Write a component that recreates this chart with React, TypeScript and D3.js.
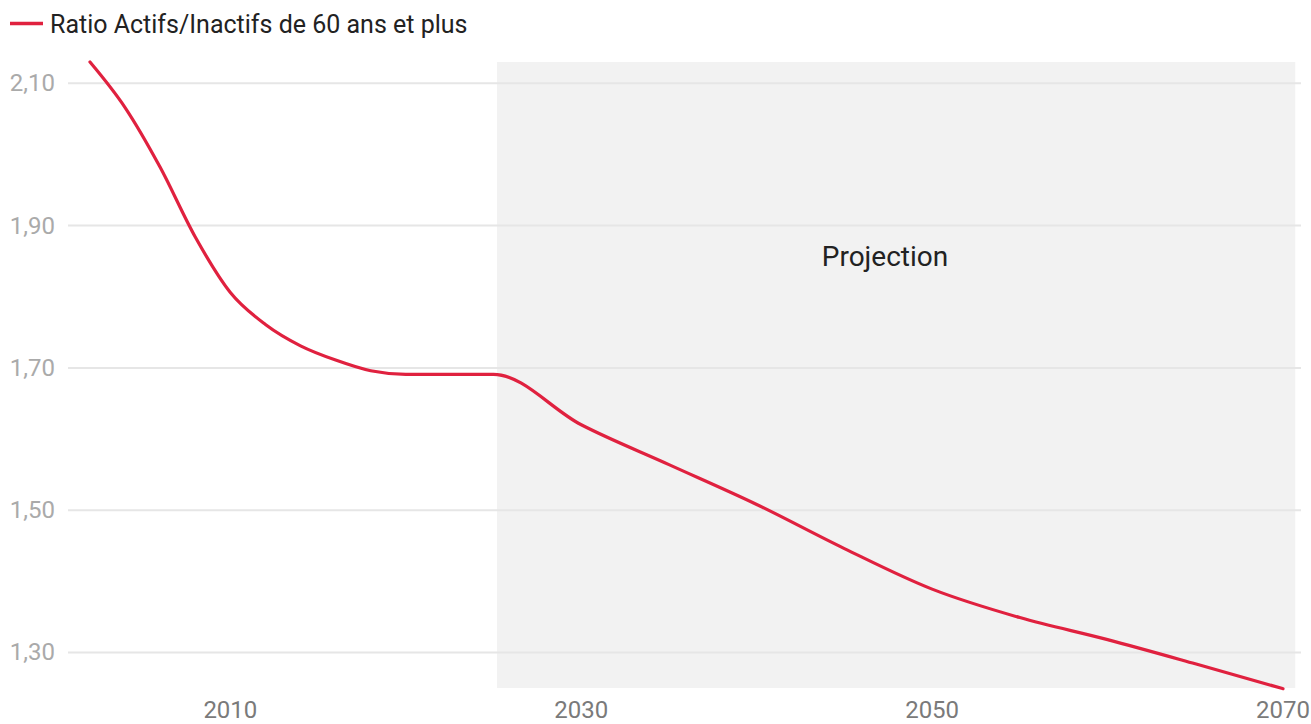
import React from "react";
import * as d3 from "d3";

const years = [2002, 2004, 2006, 2008, 2010, 2012, 2014, 2016, 2018, 2020, 2025, 2030, 2035, 2040, 2045, 2050, 2055, 2060, 2065, 2070];
const ratio = [2.13, 2.066, 1.982, 1.884, 1.806, 1.761, 1.731, 1.711, 1.696, 1.691, 1.691, 1.62, 1.564, 1.508, 1.446, 1.389, 1.349, 1.318, 1.284, 1.249];
const yTicks = [1.3, 1.5, 1.7, 1.9, 2.1];
const xTicks = [2010, 2030, 2050, 2070];
const seriesName = "Ratio Actifs/Inactifs de 60 ans et plus";
const projectionStart = 2025.2;
const projectionEnd = 2070.7;
const projectionLabel = "Projection";

const W = 1311;
const H = 724;
const FONT = "Roboto, 'Noto Sans', sans-serif";
const RED = "#e0213f";

export default function App() {
  const x = d3.scaleLinear().domain([2002, 2070]).range([90, 1283]);
  const y = d3.scaleLinear().domain([1.25, 2.13]).range([688, 62]);
  const data = years.map((yr, i) => ({ yr, v: ratio[i] }));
  const line = d3
    .line<{ yr: number; v: number }>()
    .x((d) => x(d.yr))
    .y((d) => y(d.v))
    .curve(d3.curveMonotoneX);
  const fmt = (v: number) => v.toFixed(2).replace(".", ",");

  return (
    <svg
      width={W}
      height={H}
      style={{ position: "absolute", left: 0, top: 0, background: "#fff" }}
      fontFamily={FONT}
    >
      <rect
        x={x(projectionStart)}
        y={y(2.13)}
        width={x(projectionEnd) - x(projectionStart)}
        height={y(1.25) - y(2.13)}
        fill="#f2f2f2"
      />
      {yTicks.map((t) => (
        <g key={t}>
          <line x1={68} x2={1301} y1={y(t)} y2={y(t)} stroke="#e6e6e6" strokeWidth={2} />
          <text x={55} y={y(t)} dy="0.33em" textAnchor="end" fontSize={24} fill="#aaaaaa">
            {fmt(t)}
          </text>
        </g>
      ))}
      {xTicks.map((t) => (
        <text key={t} x={x(t)} y={718} textAnchor="middle" fontSize={24} fill="#7a7a7a">
          {t}
        </text>
      ))}
      <text x={885} y={266} textAnchor="middle" fontSize={28} fill="#222">
        {projectionLabel}
      </text>
      <path d={line(data) || ""} fill="none" stroke={RED} strokeWidth={3.2} strokeLinecap="round" />
      <line x1={10} x2={43} y1={23.5} y2={23.5} stroke={RED} strokeWidth={3.5} />
      <text x={50} y={33} fontSize={25} fill="#222">
        {seriesName}
      </text>
    </svg>
  );
}
